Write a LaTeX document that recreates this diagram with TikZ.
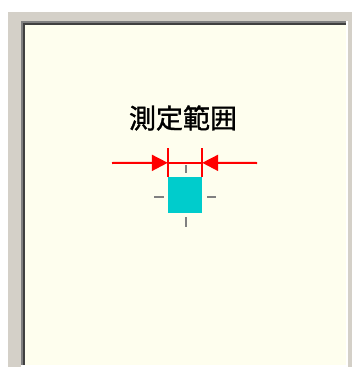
\documentclass[tikz,border=0pt]{standalone}
\usepackage{fontspec}
\newfontfamily\jpfont{Noto Sans CJK JP}[FakeBold=1.3]
\usetikzlibrary{arrows.meta}
\definecolor{framegray}{HTML}{D4D0C8}
\definecolor{panelcream}{HTML}{FEFEEE}
\definecolor{sqcyan}{HTML}{00CCCC}
\definecolor{dimred}{HTML}{FF0000}
\definecolor{tickgray}{HTML}{808080}
\definecolor{darkedge}{HTML}{404040}
\begin{document}
\begin{tikzpicture}[x=1pt,y=-1pt,
  dimline/.style={draw=dimred,line width=2pt},
  dimarrow/.style={dimline,-{Triangle[length=16pt,width=16pt]}},
  tickmark/.style={draw=tickgray,line width=2.5pt},
  labeltext/.style={font=\jpfont\fontsize{27}{27}\selectfont,text=black,inner sep=0pt}]
\useasboundingbox (0,0) rectangle (358,372);
\fill[white] (0,0) rectangle (358,372);
\fill[framegray] (8,12) rectangle (352,367);
\fill[panelcream] (21,21) rectangle (347,366);
% sunken panel edges
\fill[tickgray] (21,21) rectangle (347,23);
\fill[tickgray] (21,21) rectangle (23,366);
\fill[darkedge] (23,23) rectangle (346,25);
\fill[darkedge] (23,23) rectangle (25,365);
\fill[white] (346,21) rectangle (348,367);
\fill[white] (21,365) rectangle (348,367);
% label
\node[labeltext] (label) at (183,118) {測定範囲};
% measured square
\node[fill=sqcyan,minimum width=34pt,minimum height=36pt,inner sep=0pt] (box) at (185,195) {};
% extension lines
\coordinate (extl) at ([yshift=29pt]box.north west);
\coordinate (extr) at ([yshift=29pt]box.north east);
\path[dimline] (box.north west) -- (extl);
\path[dimline] (box.north east) -- (extr);
\coordinate (ml) at ([yshift=14pt]box.north west);
\coordinate (mr) at ([yshift=14pt]box.north east);
\coordinate (al) at (112,163);
\coordinate (ar) at (257,163);
\path[dimline] (ml) -- (mr);
\path[dimarrow] (al) -- (ml);
\path[dimarrow] (ar) -- (mr);
% ticks
\coordinate (tt1) at (186,165); \coordinate (tt2) at (186,173);
\coordinate (tb1) at (186,217); \coordinate (tb2) at (186,227);
\coordinate (tl1) at (154,197); \coordinate (tl2) at (164,197);
\coordinate (tr1) at (207,197); \coordinate (tr2) at (216,197);
\path[tickmark] (tt1) -- (tt2);
\path[tickmark] (tb1) -- (tb2);
\path[tickmark] (tl1) -- (tl2);
\path[tickmark] (tr1) -- (tr2);
\end{tikzpicture}
\end{document}
